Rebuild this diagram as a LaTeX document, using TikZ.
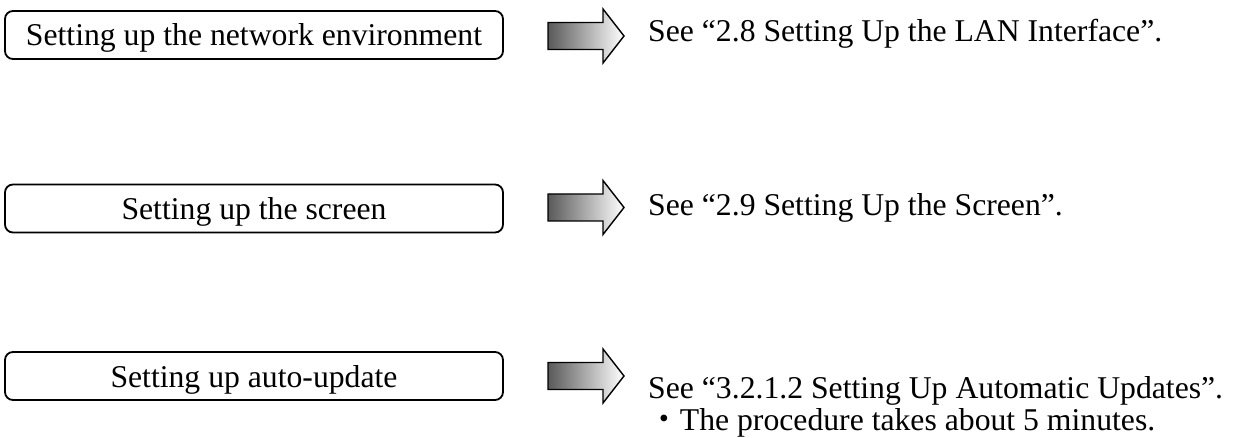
\documentclass[tikz,border=0pt]{standalone}
\usepackage{fontspec}
\setmainfont{Liberation Serif}
\newfontfamily\cjk{Noto Sans CJK JP}
\tikzset{
  stepbox/.style={draw, line width=1.8pt, rounded corners=8pt,
    minimum width=498pt, minimum height=48pt, inner sep=0pt,
    text height=22pt, text depth=0pt,
    font=\fontsize{31.7pt}{38pt}\selectfont},
  reftext/.style={anchor=base west, inner sep=0pt,
    font=\fontsize{31.7pt}{38pt}\selectfont},
  fatarrow/.pic={
    \path[draw, line width=1.4pt, line join=miter, left color=black!65, right color=white]
      (0,-13.5) -- (55,-13.5) -- (55,-27) -- (76,0) -- (55,27) -- (55,13.5) -- (0,13.5) -- cycle;
  }
}
\begin{document}
\begin{tikzpicture}[x=1pt,y=-1pt]
\useasboundingbox (0,0) rectangle (1238,438);
% boxes
\node[stepbox] (b1) at (254,35) {Setting up the network environment};
\node[stepbox] (b2) at (254,208.5) {Setting up the screen};
\node[stepbox] (b3) at (254,376) {Setting up auto-update};
% arrows
\pic (a1) at (548,36) {fatarrow};
\pic (a2) at (548,207.5) {fatarrow};
\pic (a3) at (548,376) {fatarrow};
% references
\node[reftext] (r1) at (648,42) {See “2.8 Setting Up the LAN Interface”.};
\node[reftext] (r2) at (648,215) {See “2.9 Setting Up the Screen”.};
\node[reftext] (r3) at (648,398) {See “3.2.1.2 Setting Up Automatic Updates”.};
\node[reftext] (r4) at (648,430) {{\cjk ・}The procedure takes about 5 minutes.};
\end{tikzpicture}
\end{document}
